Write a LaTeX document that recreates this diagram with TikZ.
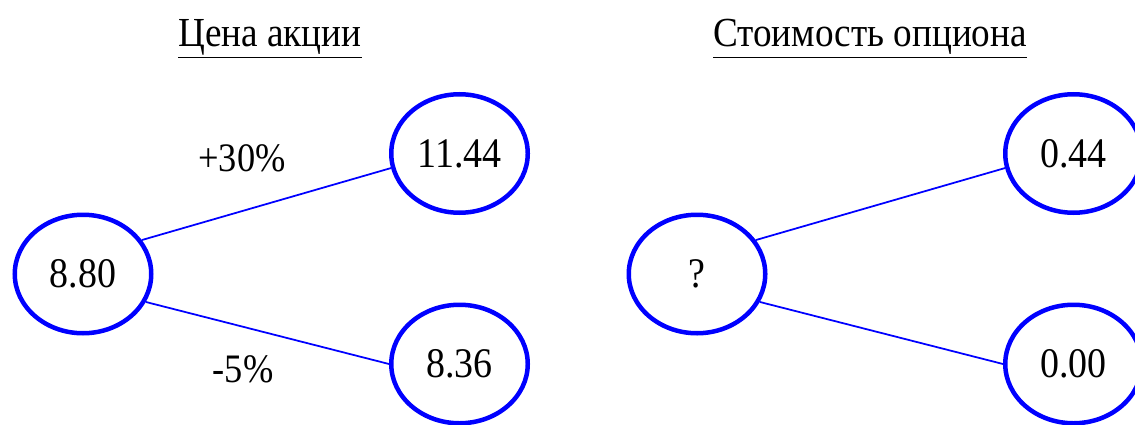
\documentclass[tikz,border=0pt]{standalone}
\usepackage{fontspec}
\setmainfont{Liberation Serif}[FakeStretch=0.9]
\usetikzlibrary{shapes.geometric}
\definecolor{nodeblue}{RGB}{0,0,255}
\tikzset{
  price/.style={ellipse, draw=nodeblue, line width=0.09cm, minimum width=2.73cm, minimum height=2.37cm, inner sep=0pt, font=\fontsize{24}{27}\selectfont},
  edge/.style={draw=nodeblue, line width=0.035cm},
  lbl/.style={font=\fontsize{23}{26}\selectfont},
  ttl/.style={font=\fontsize{23.5}{27}\selectfont}
}
\begin{document}
\begin{tikzpicture}
  \useasboundingbox (0,0) rectangle (22.7,8.48);
  % stock price tree
  \node[ttl] (ttlstock) at (5.4,7.7) {\underline{Цена акции}};
  \node[price] (s0) at (1.66,3.00) {8.80};
  \node[price] (su) at (9.19,5.41) {11.44};
  \node[price] (sd) at (9.19,1.20) {8.36};
  \draw[edge] (s0.30) -- (su.192);
  \draw[edge] (s0.-24) -- (sd.180);
  \node[lbl] (lblup) at (4.84,5.32) {+30\%};
  \node[lbl] (lbldown) at (4.86,1.10) {-5\%};
  % option value tree
  \node[ttl] (ttloption) at (17.4,7.7) {\underline{Стоимость опциона}};
  \node[price] (o0) at (13.94,3.00) {?};
  \node[price] (ou) at (21.47,5.41) {0.44};
  \node[price] (od) at (21.47,1.20) {0.00};
  \draw[edge] (o0.30) -- (ou.192);
  \draw[edge] (o0.-24) -- (od.180);
\end{tikzpicture}
\end{document}
